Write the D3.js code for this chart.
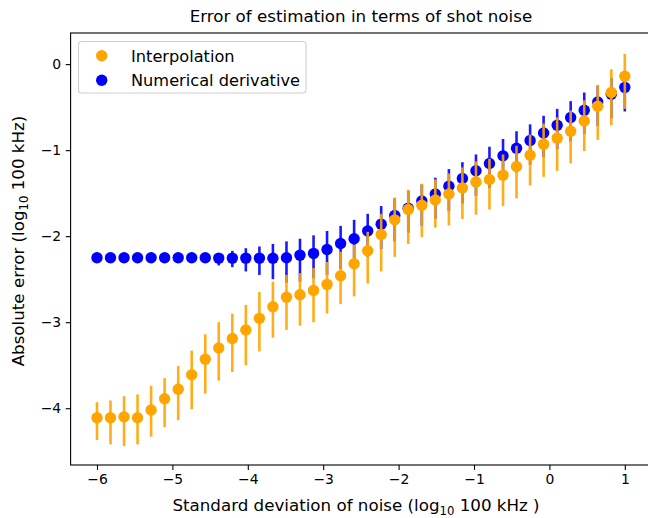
<!DOCTYPE html>
<html><head><meta charset="utf-8">
<script src="https://cdn.jsdelivr.net/npm/d3@7"></script>
<style>body{margin:0;background:#fff}svg{display:block;font-family:"DejaVu Sans",sans-serif}</style>
</head><body>
<svg id="c" width="648" height="518"></svg>
<script>
const xVals = [-6, -5.821, -5.641, -5.462, -5.282, -5.103, -4.923, -4.744, -4.564, -4.385, -4.205, -4.026, -3.846, -3.667, -3.487, -3.308, -3.128, -2.949, -2.769, -2.590, -2.410, -2.231, -2.051, -1.872, -1.692, -1.513, -1.333, -1.154, -0.974, -0.795, -0.615, -0.436, -0.256, -0.077, 0.103, 0.282, 0.462, 0.641, 0.821, 1.0];
const interpMean = [-4.11,-4.11,-4.10,-4.11,-4.02,-3.89,-3.78,-3.61,-3.43,-3.30,-3.19,-3.09,-2.955,-2.82,-2.71,-2.68,-2.63,-2.56,-2.46,-2.32,-2.17,-1.98,-1.81,-1.69,-1.64,-1.58,-1.51,-1.44,-1.37,-1.34,-1.29,-1.19,-1.06,-0.93,-0.86,-0.78,-0.66,-0.49,-0.33,-0.14];
const interpHigh = [-3.93,-3.91,-3.86,-3.84,-3.74,-3.65,-3.51,-3.33,-3.14,-3.00,-2.90,-2.80,-2.65,-2.53,-2.45,-2.43,-2.37,-2.30,-2.18,-2.10,-1.95,-1.74,-1.55,-1.46,-1.39,-1.34,-1.27,-1.20,-1.13,-1.10,-1.05,-0.95,-0.82,-0.69,-0.62,-0.54,-0.42,-0.24,-0.06,0.12];
const interpLow = [-4.37,-4.42,-4.44,-4.42,-4.33,-4.22,-4.14,-4.01,-3.83,-3.68,-3.58,-3.50,-3.34,-3.18,-3.09,-3.04,-3.00,-2.90,-2.79,-2.70,-2.55,-2.41,-2.24,-2.09,-2.01,-1.90,-1.875,-1.80,-1.75,-1.69,-1.65,-1.56,-1.41,-1.31,-1.24,-1.155,-1.01,-0.88,-0.71,-0.52];
const derivMean = [-2.25,-2.25,-2.25,-2.25,-2.25,-2.25,-2.25,-2.25,-2.25,-2.255,-2.255,-2.255,-2.255,-2.256,-2.25,-2.22,-2.20,-2.155,-2.085,-2.03,-1.94,-1.86,-1.76,-1.675,-1.59,-1.51,-1.42,-1.33,-1.24,-1.155,-1.066,-0.977,-0.887,-0.80,-0.71,-0.62,-0.535,-0.44,-0.35,-0.27];
const derivHigh = [-2.25,-2.25,-2.25,-2.25,-2.25,-2.25,-2.25,-2.25,-2.23,-2.21,-2.17,-2.14,-2.12,-2.09,-2.06,-2.03,-1.99,-1.94,-1.88,-1.81,-1.74,-1.65,-1.56,-1.47,-1.40,-1.32,-1.22,-1.14,-1.05,-0.96,-0.87,-0.78,-0.70,-0.60,-0.52,-0.43,-0.33,-0.25,-0.16,-0.09];
const derivLow = [-2.25,-2.25,-2.25,-2.25,-2.25,-2.25,-2.25,-2.25,-2.29,-2.34,-2.36,-2.41,-2.45,-2.50,-2.54,-2.53,-2.49,-2.45,-2.38,-2.32,-2.24,-2.15,-2.06,-1.96,-1.88,-1.80,-1.71,-1.62,-1.53,-1.44,-1.35,-1.26,-1.17,-1.08,-0.99,-0.90,-0.81,-0.72,-0.63,-0.55];
const xTicks = [-6,-5,-4,-3,-2,-1,0,1];
const yTicks = [0,-1,-2,-3,-4];
const seriesNames = ["Interpolation","Numerical derivative"];
const seriesColors = ["#ffa500","#0000ff"];

const svg = d3.select("#c");
const L = 70.6, R = 651.2, T = 33, B = 465;
const x = d3.scaleLinear().domain([-6.35, 1.35]).range([L, R]);
const y = d3.scaleLinear().domain([-4.66, 0.362]).range([B, T]);

const fmt = d => d < 0 ? "\u2212" + Math.abs(d) : String(d);
const gx = svg.append("g").attr("transform", `translate(0,${B})`)
  .call(d3.axisBottom(x).tickValues(xTicks).tickFormat(fmt).tickSize(4.9).tickPadding(4.5));
const gy = svg.append("g").attr("transform", `translate(${L},0)`)
  .call(d3.axisLeft(y).tickValues(yTicks).tickFormat(fmt).tickSize(4.9).tickPadding(4.5));
[gx, gy].forEach(g => {
  g.select(".domain").remove();
  g.selectAll("line").attr("stroke", "#000").attr("stroke-width", 1.1);
  g.selectAll("text").attr("font-family", "DejaVu Sans").attr("font-size", 13.9).attr("fill", "#000");
});

function drawSeries(mean, lo, hi, color) {
  const g = svg.append("g");
  g.selectAll("line").data(xVals).join("line")
    .attr("x1", d => x(d)).attr("x2", d => x(d))
    .attr("y1", (d, i) => y(lo[i])).attr("y2", (d, i) => y(hi[i]))
    .attr("stroke", color).attr("stroke-width", 2.6).attr("stroke-opacity", 0.9);
  g.selectAll("circle").data(xVals).join("circle")
    .attr("cx", d => x(d)).attr("cy", (d, i) => y(mean[i])).attr("r", 5.7)
    .attr("fill", color);
}
drawSeries(derivMean, derivLow, derivHigh, seriesColors[1]);
drawSeries(interpMean, interpLow, interpHigh, seriesColors[0]);

// spines
svg.append("rect").attr("x", L).attr("y", T).attr("width", R - L).attr("height", B - T)
  .attr("fill", "none").attr("stroke", "#000").attr("stroke-width", 1.1);

// legend
const lg = svg.append("g");
lg.append("rect").attr("x", 78.5).attr("y", 41.5).attr("width", 227.5).attr("height", 51.5)
  .attr("rx", 3).attr("fill", "#fff").attr("fill-opacity", 0.8).attr("stroke", "#d0d0d0").attr("stroke-width", 1.1);
seriesNames.forEach((n, i) => {
  const cy = 55.7 + i * 24.6;
  lg.append("circle").attr("cx", 101.7).attr("cy", cy).attr("r", 5.7).attr("fill", seriesColors[i]);
  lg.append("text").attr("x", 131).attr("y", cy + 5.8).attr("font-size", 16.2).text(n);
});

// title
svg.append("text").attr("x", (L + R) / 2).attr("y", 22).attr("text-anchor", "middle")
  .attr("font-size", 16.7).text("Error of estimation in terms of shot noise");

// x label
const xl = svg.append("text").attr("x", 356).attr("y", 511).attr("text-anchor", "middle").attr("font-size", 16.7);
xl.append("tspan").text("Standard deviation of noise (log");
xl.append("tspan").attr("font-size", 11.7).attr("dy", 3.5).text("10");
xl.append("tspan").attr("dy", -3.5).text(" 100 kHz )");

// y label
const yl = svg.append("text").attr("transform", `translate(24,${(T + B) / 2 - 8}) rotate(-90)`)
  .attr("text-anchor", "middle").attr("font-size", 16.7);
yl.append("tspan").text("Absolute error (log");
yl.append("tspan").attr("font-size", 11.7).attr("dy", 3.5).text("10");
yl.append("tspan").attr("dy", -3.5).text(" 100 kHz)");
</script>
</body></html>
